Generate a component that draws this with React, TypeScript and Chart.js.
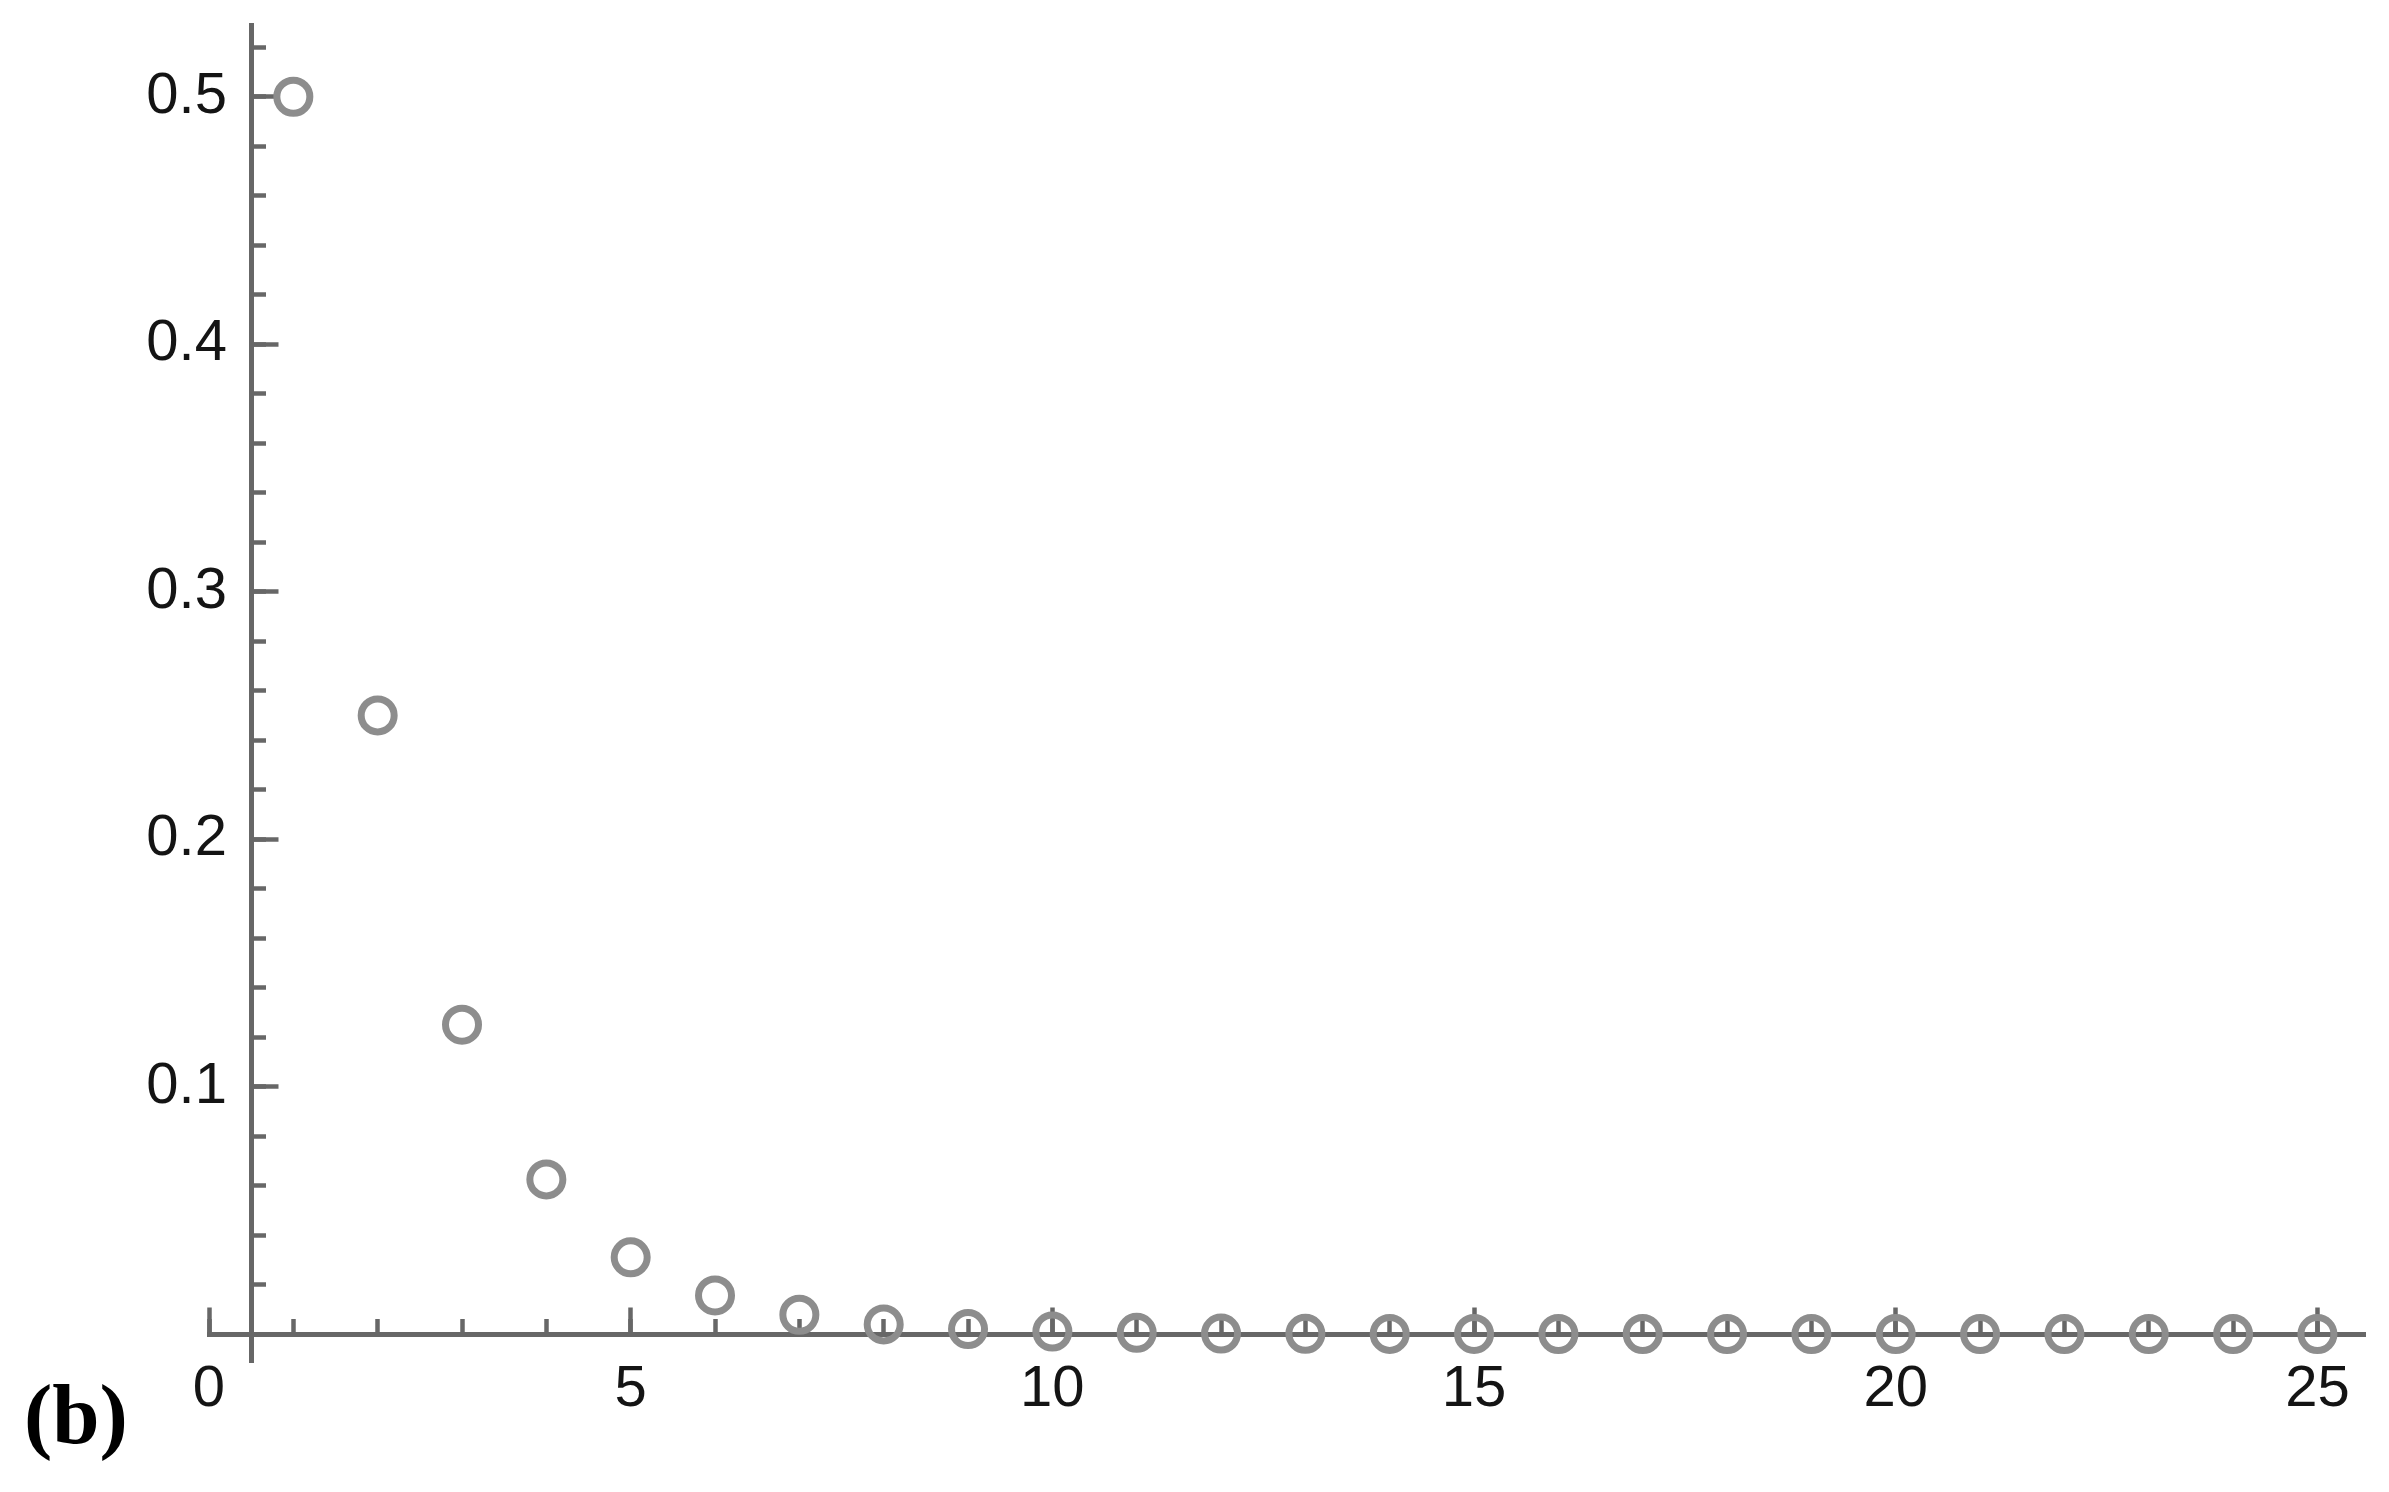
import { useEffect, useRef } from "react";
import { Chart, registerables } from "chart.js";

Chart.register(...registerables);

// ---- data ----
const X_VALUES = [1, 2, 3, 4, 5, 6, 7, 8, 9, 10, 11, 12, 13, 14, 15, 16, 17, 18, 19, 20, 21, 22, 23, 24, 25];
const Y_VALUES = [
  0.5, 0.25, 0.125, 0.0625, 0.031, 0.0156, 0.0078, 0.0039, 0.002, 0.001, 0.0005, 0.0002, 0.0001,
  0.00006, 0.00003, 0.00002, 0.00001, 0, 0, 0, 0, 0, 0, 0, 0,
];

// ---- axes ----
const X_RANGE = [0, 25.57];
const Y_RANGE = [-0.0113, 0.529];
const X_MAJOR_TICKS = [0, 5, 10, 15, 20, 25];
const X_TICK_LABELS = ["0", "5", "10", "15", "20", "25"];
const X_MINOR_TICKS = [0, 1, 2, 3, 4, 5, 6, 7, 8, 9, 10, 11, 12, 13, 14, 15, 16, 17, 18, 19, 20, 21, 22, 23, 24, 25];
const Y_MAJOR_TICKS = [0.1, 0.2, 0.3, 0.4, 0.5];
const Y_TICK_LABELS = ["0.1", "0.2", "0.3", "0.4", "0.5"];
const Y_MINOR_TICKS = [
  0.02, 0.04, 0.06, 0.08, 0.1, 0.12, 0.14, 0.16, 0.18, 0.2, 0.22, 0.24, 0.26, 0.28, 0.3, 0.32, 0.34,
  0.36, 0.38, 0.4, 0.42, 0.44, 0.46, 0.48, 0.5, 0.52,
];
const Y_AXIS_AT_X = 0.5;
const X_AXIS_AT_Y = 0;
const Y_LABELS_AT_X = 0.213;
const PANEL_LABEL = "(b)";

const W = 2389;
const H = 1492;
const AXIS_COLOR = "#676767";
const POINT_COLOR = "#8d8d8d";
const LABEL_COLOR = "#141414";
const LABEL_FONT = { family: "'Liberation Sans', Arial, sans-serif", size: 58, lineHeight: 1 };

const setTicks = (values: number[]) => (scale: any) => {
  scale.ticks = values.map((v) => ({ value: v }));
};
const noPadding = (scale: any) => {
  scale.paddingTop = 0;
  scale.paddingBottom = 0;
  scale.paddingLeft = 0;
  scale.paddingRight = 0;
};

export default function App() {
  const ref = useRef<HTMLCanvasElement | null>(null);

  useEffect(() => {
    if (!ref.current) return;
    const common = { type: "linear" as const, afterFit: noPadding };
    const xBase = { ...common, axis: "x", min: X_RANGE[0], max: X_RANGE[1], position: { y: X_AXIS_AT_Y } };
    const yBase = { ...common, axis: "y", min: Y_RANGE[0], max: Y_RANGE[1], position: { x: Y_AXIS_AT_X } };

    const chart = new Chart(ref.current, {
      type: "scatter",
      data: {
        datasets: [
          {
            data: X_VALUES.map((x, i) => ({ x, y: Y_VALUES[i] })),
            pointStyle: "circle",
            pointRadius: 16.5,
            pointBorderWidth: 7,
            pointBorderColor: POINT_COLOR,
            pointBackgroundColor: "rgba(0,0,0,0)",
            showLine: false,
            clip: false,
          },
        ],
      },
      options: {
        animation: false,
        responsive: false,
        devicePixelRatio: 1,
        events: [],
        layout: { padding: { left: 209, right: 22, top: 25, bottom: 130 } },
        plugins: { legend: { display: false }, tooltip: { enabled: false }, title: { display: false } },
        scales: {
          x: {
            ...xBase,
            afterBuildTicks: setTicks(X_MAJOR_TICKS),
            border: { display: true, color: AXIS_COLOR, width: 5 },
            grid: { display: true, drawOnChartArea: false, drawTicks: true, tickLength: -29.5, tickWidth: 4.5, tickColor: AXIS_COLOR },
            ticks: { display: false },
          },
          xMinor: {
            ...xBase,
            afterBuildTicks: setTicks(X_MINOR_TICKS),
            border: { display: false },
            grid: { display: true, drawOnChartArea: false, drawTicks: true, tickLength: -15, tickWidth: 4.5, tickColor: AXIS_COLOR },
            ticks: { display: false },
          },
          xLabels: {
            ...xBase,
            afterBuildTicks: setTicks(X_MAJOR_TICKS),
            border: { display: false },
            grid: { display: false, drawTicks: false },
            ticks: {
              display: true,
              autoSkip: false,
              maxRotation: 0,
              minRotation: 0,
              padding: 27,
              color: LABEL_COLOR,
              font: LABEL_FONT,
              callback: (_v: any, i: number) => X_TICK_LABELS[i],
            },
          },
          y: {
            ...yBase,
            afterBuildTicks: setTicks(Y_MAJOR_TICKS),
            border: { display: true, color: AXIS_COLOR, width: 5 },
            grid: { display: true, drawOnChartArea: false, drawTicks: true, tickLength: -29.5, tickWidth: 4.5, tickColor: AXIS_COLOR },
            ticks: { display: false },
          },
          yMinor: {
            ...yBase,
            afterBuildTicks: setTicks(Y_MINOR_TICKS),
            border: { display: false },
            grid: { display: true, drawOnChartArea: false, drawTicks: true, tickLength: -15, tickWidth: 4.5, tickColor: AXIS_COLOR },
            ticks: { display: false },
          },
          yLabels: {
            ...yBase,
            position: { x: Y_LABELS_AT_X },
            afterBuildTicks: setTicks(Y_MAJOR_TICKS),
            border: { display: false },
            grid: { display: false, drawTicks: false },
            ticks: {
              display: true,
              autoSkip: false,
              padding: 0,
              color: LABEL_COLOR,
              font: LABEL_FONT,
              callback: (_v: any, i: number) => Y_TICK_LABELS[i],
            },
          },
        },
      } as any,
    });
    return () => chart.destroy();
  }, []);

  return (
    <div style={{ position: "absolute", left: 0, top: 0, width: W, height: H, background: "#fff" }}>
      <canvas ref={ref} width={W} height={H} style={{ display: "block", width: W, height: H }} />
      <div
        style={{
          position: "absolute",
          left: 24,
          top: 1372,
          font: "bold 85px 'Liberation Serif', 'Times New Roman', serif",
          lineHeight: 1,
          color: "#000",
          whiteSpace: "nowrap",
        }}
      >
        {PANEL_LABEL}
      </div>
    </div>
  );
}
